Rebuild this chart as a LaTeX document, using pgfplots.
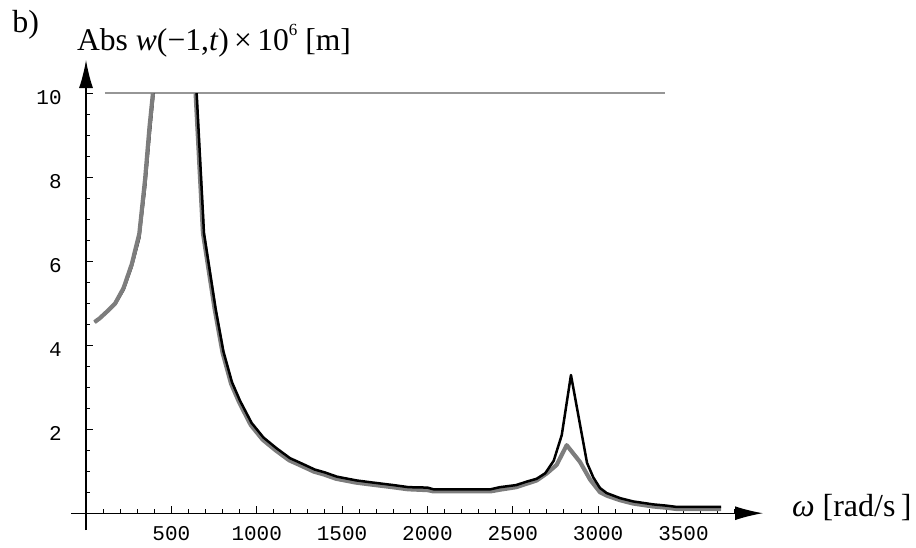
\documentclass[border=0pt]{standalone}
\usepackage{fontspec}
\setmainfont{Liberation Serif}
\setmonofont{Liberation Mono}
\usepackage{pgfplots}
\pgfplotsset{compat=1.18}
\usetikzlibrary{arrows.meta}
\definecolor{curvegray}{RGB}{125,125,125}
\definecolor{linegray}{RGB}{150,150,150}
\begin{document}
\begin{tikzpicture}
\path[use as bounding box] (0,0) rectangle (458pt,-273.5pt);
\begin{axis}[
  at={(35.5pt,-265pt)}, anchor=south west,
  scale only axis, width=346pt, height=235pt,
  xmin=-88, xmax=3966, ymin=-0.4, ymax=10.79,
  enlargelimits=false,
  axis lines=middle,
  axis line style={line width=0.65pt, -{Latex[length=14pt,width=7pt]}},
  xtick={500,1000,...,3500}, ytick={2,4,...,10},
  minor xtick={100,200,...,3800}, minor ytick={0.5,1,...,9.5},
  tick align=inside,
  major tick length=3.4pt, minor tick length=2pt,
  every tick/.style={line width=0.5pt, black},
  xticklabel style={font=\fontsize{10.5}{12}\selectfont\ttfamily, anchor=north, inner sep=0pt, yshift=-6.35pt},
  yticklabel style={font=\fontsize{10.5}{12}\selectfont\ttfamily, anchor=east, inner sep=0pt, xshift=-12pt, yshift=-2pt},
  /pgf/number format/assume math mode=true,
  /pgf/number format/1000 sep={},
  scaled ticks=false,
  clip=false,
]
% horizontal reference line at 10
\addplot[linegray, line width=1pt] coordinates {(111,10) (3392,10)};
% black curve, left branch (under the gray one)
\addplot[black, line width=1.25pt, line join=round] coordinates {
(50,4.55)(80,4.64)(120,4.78)(170,4.97)(220,5.32)(268,5.87)(312,6.55)(346,7.75)(375,9.1)(396,10)};
% gray curve, left branch
\addplot[curvegray, line width=2.1pt, line join=round] coordinates {
(50,4.55)(80,4.64)(120,4.79)(170,4.99)(220,5.36)(268,5.93)(312,6.65)(346,7.95)(372,9.2)(392,10)};
% gray curve, right branch
\addplot[curvegray, line width=2.1pt, line join=round] coordinates {
(642,10)(685,6.67)(754,4.85)(800,3.82)(850,3.08)(897,2.64)(965,2.10)(1035,1.75)(1110,1.50)(1190,1.26)(1250,1.15)(1335,0.99)(1395,0.92)(1465,0.82)(1580,0.73)(1675,0.68)(1795,0.62)(1885,0.57)(2000,0.55)(2035,0.52)(2370,0.52)(2425,0.56)(2520,0.62)(2580,0.70)(2640,0.78)(2700,0.95)(2757,1.15)(2816,1.62)(2894,1.22)(2953,0.80)(3011,0.50)(3050,0.42)(3128,0.31)(3206,0.23)(3323,0.16)(3401,0.13)(3460,0.10)(3720,0.10)};
% black curve, right branch
\addplot[black, line width=1.25pt, line join=round] coordinates {
(648,10)(691,6.67)(760,4.85)(805,3.85)(855,3.12)(902,2.68)(970,2.15)(1040,1.80)(1115,1.55)(1195,1.31)(1255,1.20)(1340,1.04)(1400,0.97)(1470,0.87)(1585,0.78)(1680,0.73)(1800,0.67)(1890,0.62)(2000,0.61)(2035,0.57)(2370,0.57)(2425,0.62)(2520,0.67)(2580,0.75)(2640,0.82)(2690,0.95)(2740,1.25)(2787,1.86)(2841,3.29)(2935,1.20)(2972,0.85)(3011,0.60)(3050,0.48)(3128,0.36)(3206,0.28)(3323,0.21)(3401,0.18)(3460,0.15)(3720,0.15)};
\end{axis}
\node[anchor=base west, inner sep=0pt, font=\fontsize{16}{19}\selectfont] at (6pt,-16pt) {b)};
\node[anchor=base west, inner sep=0pt, font=\fontsize{15.8}{19}\selectfont] at (38.35pt,-25pt) {Abs \textit{w}(−1,\textit{t})\,×\,10\raisebox{1.0ex}{\fontsize{8.5}{10}\selectfont 6} [m]};
\node[anchor=base west, inner sep=0pt, font=\fontsize{16}{19}\selectfont] at (395.8pt,-258.3pt) {\textit{ω} [rad/s\,]};
\end{tikzpicture}
\end{document}
